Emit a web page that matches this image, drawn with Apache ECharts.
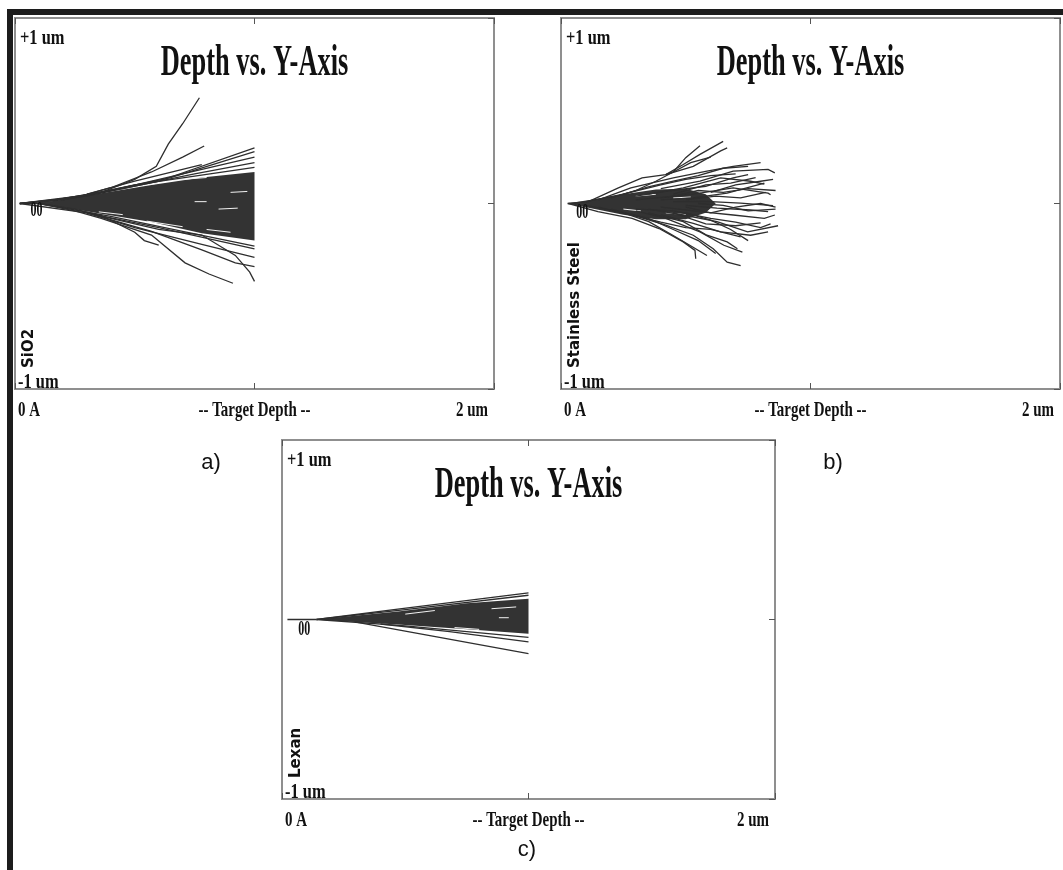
<!DOCTYPE html>
<html>
<head>
<meta charset="utf-8">
<title>Depth vs. Y-Axis</title>
<script src="https://cdn.jsdelivr.net/npm/echarts@6/dist/echarts.min.js"></script>
<style>
  html, body { margin: 0; padding: 0; background: #fff; }
  #main { width: 1063px; height: 870px; }
</style>
</head>
<body>
<div id="main"></div>
<script>
// texts
const xTickLabels = ['0 A', '-- Target Depth --', '2 um']
const yTickLabels = ['-1 um', '+1 um']
const titleText = 'Depth vs. Y-Axis'
const materials = ['SiO2', 'Stainless Steel', 'Lexan']
const captions = ['a)', 'b)', 'c)']

// dense part of each cascade, [depth (um), y (um)]
const coreA = [[0.1, 0.004], [0.2, 0.02], [0.36, 0.055], [0.57, 0.1], [0.78, 0.14], [1.0, 0.17],
  [1.0, -0.2], [0.78, -0.16], [0.57, -0.1], [0.36, -0.055], [0.2, -0.02], [0.1, -0.004]]
const coreB = [[0.03, 0.002], [0.12, 0.02], [0.25, 0.05], [0.38, 0.075], [0.5, 0.08], [0.58, 0.05], [0.62, 0.0],
  [0.58, -0.05], [0.5, -0.085], [0.38, -0.085], [0.25, -0.06], [0.12, -0.025], [0.03, -0.002]]
const coreC = [[0.14, 0], [0.47, 0.045], [0.75, 0.09], [1.0, 0.115],
  [1.0, -0.08], [0.75, -0.055], [0.47, -0.028], [0.14, -0.002]]

// single ion tracks that stand out of the core
const pathsA = [
  [[0.02, 0], [0.12, 0]],
  [[0.02, 0], [0.2, 0.02], [0.36, 0.06], [0.5, 0.13], [0.59, 0.2], [0.64, 0.32], [0.7, 0.43], [0.77, 0.57]],
  [[0.02, 0], [0.25, 0.03], [0.4, 0.085], [0.57, 0.17], [0.7, 0.25], [0.79, 0.31]],
  [[0.3, 0.05], [0.5, 0.12], [0.78, 0.21]],
  [[0.02, 0], [0.3, 0.04], [0.6, 0.12], [1.0, 0.3]],
  [[0.02, 0], [0.3, 0.045], [0.65, 0.14], [1.0, 0.28]],
  [[0.1, 0.005], [0.4, 0.07], [0.7, 0.16], [1.0, 0.25]],
  [[0.1, 0.005], [0.45, 0.08], [0.75, 0.16], [1.0, 0.22]],
  [[0.2, 0.02], [0.5, 0.1], [1.0, 0.195]],
  [[0.02, 0], [0.3, -0.05], [0.6, -0.13], [1.0, -0.245]],
  [[0.1, 0], [0.4, -0.07], [0.7, -0.15], [1.0, -0.23]],
  [[0.1, 0], [0.25, -0.03], [0.36, -0.065], [0.5, -0.155], [0.54, -0.2], [0.6, -0.225]],
  [[0.1, 0], [0.25, -0.04], [0.36, -0.08], [0.57, -0.17], [0.71, -0.32], [0.81, -0.38], [0.91, -0.43]],
  [[0.3, -0.05], [0.6, -0.14], [0.78, -0.17], [0.92, -0.28], [0.98, -0.37], [1.0, -0.42]],
  [[0.3, -0.05], [0.57, -0.15], [0.78, -0.25], [0.92, -0.32], [1.0, -0.34]],
  [[0.3, -0.05], [0.5, -0.13], [0.78, -0.22], [1.0, -0.29]]
]
const pathsB = [
  [[0.026, 0], [0.06, 0]],
  [[0.03, 0], [0.11, 0.01], [0.23, 0.084], [0.325, 0.138], [0.42, 0.156], [0.49, 0.21], [0.557, 0.265], [0.65, 0.335]],
  [[0.42, 0.156], [0.45, 0.17], [0.5, 0.247], [0.557, 0.311]],
  [[0.42, 0.156], [0.53, 0.2], [0.64, 0.284], [0.666, 0.3]],
  [[0.15, 0.02], [0.28, 0.084], [0.45, 0.138], [0.585, 0.175], [0.69, 0.2], [0.8, 0.22]],
  [[0.4, 0.08], [0.557, 0.12], [0.69, 0.175], [0.83, 0.184], [0.857, 0.165]],
  [[0.35, 0.05], [0.49, 0.084], [0.64, 0.138], [0.76, 0.12], [0.815, 0.105]],
  [[0.4, 0.03], [0.557, 0.056], [0.69, 0.084], [0.83, 0.056], [0.84, 0.047]],
  [[0.45, 0.01], [0.58, 0.011], [0.72, 0.002], [0.85, -0.011]],
  [[0.4, 0.02], [0.53, 0.03], [0.666, 0.056], [0.815, 0.11]],
  [[0.3, 0.04], [0.42, 0.065], [0.58, 0.093], [0.69, 0.138], [0.75, 0.156]],
  [[0.03, 0], [0.148, -0.044], [0.285, -0.08], [0.393, -0.135], [0.49, -0.207], [0.537, -0.253], [0.54, -0.298]],
  [[0.15, -0.02], [0.285, -0.062], [0.42, -0.116], [0.53, -0.171], [0.61, -0.244], [0.666, -0.316], [0.72, -0.335]],
  [[0.3, -0.04], [0.42, -0.08], [0.557, -0.153], [0.653, -0.225], [0.727, -0.262]],
  [[0.35, -0.03], [0.49, -0.062], [0.625, -0.098], [0.748, -0.153], [0.87, -0.12]],
  [[0.4, -0.02], [0.557, -0.044], [0.69, -0.062], [0.815, -0.08], [0.857, -0.062]],
  [[0.35, -0.05], [0.49, -0.098], [0.585, -0.171], [0.666, -0.207], [0.707, -0.244]],
  [[0.25, -0.05], [0.352, -0.098], [0.448, -0.171], [0.516, -0.225], [0.585, -0.28]],
  [[0.5, -0.01], [0.625, -0.025], [0.76, -0.035], [0.83, -0.044]],
  [[0.4, -0.06], [0.53, -0.107], [0.64, -0.153], [0.76, -0.171], [0.83, -0.153]],
  [[0.5, 0.02], [0.62, 0.04], [0.72, 0.03], [0.82, 0.06]],
  [[0.5, -0.02], [0.6, -0.05], [0.7, -0.02], [0.8, 0.0], [0.86, -0.02]],
  [[0.45, 0.05], [0.58, 0.1], [0.68, 0.11], [0.78, 0.14]],
  [[0.45, -0.05], [0.58, -0.11], [0.7, -0.12], [0.8, -0.105]],
  [[0.2, 0.03], [0.3, 0.07], [0.38, 0.12], [0.45, 0.17], [0.52, 0.22], [0.6, 0.25]],
  [[0.1, 0.01], [0.25, 0.05], [0.4, 0.1], [0.5, 0.13], [0.6, 0.15], [0.7, 0.16]],
  [[0.1, -0.01], [0.25, -0.05], [0.4, -0.1], [0.5, -0.13], [0.6, -0.14], [0.72, -0.18]],
  [[0.2, -0.03], [0.35, -0.08], [0.45, -0.14], [0.55, -0.2], [0.62, -0.27]],
  [[0.2, 0.03], [0.35, 0.09], [0.45, 0.12], [0.55, 0.15], [0.65, 0.19], [0.75, 0.2]],
  [[0.3, -0.03], [0.45, -0.04], [0.6, -0.08], [0.7, -0.1], [0.8, -0.13], [0.84, -0.11]],
  [[0.3, 0.02], [0.45, 0.04], [0.55, 0.07], [0.65, 0.06], [0.75, 0.08], [0.86, 0.07]],
  [[0.5, -0.05], [0.6, -0.09], [0.68, -0.14], [0.75, -0.2]],
  [[0.55, 0.0], [0.65, -0.01], [0.75, -0.04], [0.86, -0.03]],
  [[0.6, 0.06], [0.7, 0.1], [0.8, 0.12], [0.85, 0.13]]
]
const pathsC = [
  [[0.022, 0], [0.14, 0]],
  [[0.14, 0], [0.47, 0.058], [1.0, 0.148]],
  [[0.14, 0], [0.5, 0.055], [1.0, 0.135]],
  [[0.14, 0], [0.5, -0.035], [1.0, -0.1]],
  [[0.4, -0.025], [0.68, -0.067], [1.0, -0.125]],
  [[0.3, -0.015], [0.6, -0.09], [1.0, -0.19]]
]

// light gaps between tracks inside the dark cores
const gapsA = [
  [[0.45, 0.085], [0.6, 0.11]], [[0.65, 0.125], [0.8, 0.14]], [[0.55, -0.095], [0.7, -0.125]],
  [[0.8, -0.14], [0.9, -0.155]], [[0.75, 0.01], [0.8, 0.01]], [[0.85, -0.03], [0.93, -0.025]],
  [[0.9, 0.06], [0.97, 0.065]], [[0.35, -0.045], [0.45, -0.06]]
]
const gapsB = [
  [[0.3, 0.04], [0.38, 0.05]], [[0.42, -0.05], [0.5, -0.06]], [[0.45, 0.03], [0.52, 0.035]],
  [[0.25, -0.03], [0.32, -0.04]]
]
const gapsC = [
  [[0.5, 0.03], [0.62, 0.05]], [[0.7, -0.045], [0.8, -0.055]], [[0.85, 0.06], [0.95, 0.07]],
  [[0.88, 0.01], [0.92, 0.01]]
]

// "00" marker under the entry point
const originMarks = [[0.09, -0.04], [0.085, -0.05], [0.09, -0.055]]

const serif = '"Liberation Serif", "DejaVu Serif", serif'
const ink = '#2e2e2e'

const panels = [
  { grid: { left: 15, top: 18, width: 479, height: 371 }, core: coreA, paths: pathsA, gaps: gapsA },
  { grid: { left: 561, top: 18, width: 499, height: 371 }, core: coreB, paths: pathsB, gaps: gapsB },
  { grid: { left: 282, top: 440, width: 493, height: 359 }, core: coreC, paths: pathsC, gaps: gapsC }
]

const chart = echarts.init(document.getElementById('main'))

const option = {
  backgroundColor: '#fff',
  animation: false,
  grid: [],
  xAxis: [],
  yAxis: [],
  series: []
}

panels.forEach((p, i) => {
  option.grid.push(Object.assign({ show: true, borderColor: '#8f8f8f', borderWidth: 2, backgroundColor: '#fff' }, p.grid))
  const base = {
    gridIndex: i,
    type: 'value',
    splitLine: { show: false },
    axisLine: { show: false, onZero: false },
    axisLabel: { show: false }
  }
  const tick = { show: true, inside: true, length: 6, lineStyle: { color: '#555', width: 1 } }
  option.xAxis.push(Object.assign({}, base, { position: 'bottom', min: 0, max: 2, interval: 1, axisTick: tick }))
  option.xAxis.push(Object.assign({}, base, { position: 'top', min: 0, max: 2, interval: 1, axisTick: tick }))
  option.yAxis.push(Object.assign({}, base, { position: 'left', min: -1, max: 1, interval: 1, axisTick: { show: false } }))
  option.yAxis.push(Object.assign({}, base, { position: 'right', min: -1, max: 1, interval: 1, axisTick: tick }))

  option.series.push({
    type: 'custom',
    xAxisIndex: 2 * i,
    yAxisIndex: 2 * i,
    silent: true,
    data: [[0, 0]],
    renderItem: (params, api) => ({
      type: 'polygon',
      shape: { points: p.core.map(pt => api.coord(pt)) },
      style: { fill: '#333' }
    })
  })
  option.series.push({
    type: 'lines',
    coordinateSystem: 'cartesian2d',
    xAxisIndex: 2 * i,
    yAxisIndex: 2 * i,
    polyline: true,
    silent: true,
    data: p.gaps.map(c => ({ coords: c })),
    lineStyle: { color: '#f2f2f2', width: 1, opacity: 1 }
  })
  option.series.push({
    type: 'lines',
    coordinateSystem: 'cartesian2d',
    xAxisIndex: 2 * i,
    yAxisIndex: 2 * i,
    polyline: true,
    silent: true,
    data: p.paths.map(c => ({ coords: c })),
    lineStyle: { color: ink, width: 1.3, opacity: 1 }
  })
})

chart.setOption(option)

function txt(x, y, text, size, opts) {
  const o = Object.assign({ family: serif, weight: 'normal', align: 'center', scaleX: 1, rotation: 0 }, opts)
  return {
    type: 'text',
    x: x,
    y: y,
    z: 100,
    silent: true,
    scaleX: o.scaleX,
    rotation: o.rotation,
    style: {
      text: text,
      fontSize: size,
      fontFamily: o.family,
      fontWeight: o.weight,
      fill: '#111',
      align: o.align,
      textAlign: o.align,
      verticalAlign: 'middle',
      textVerticalAlign: 'middle'
    }
  }
}

const graphic = [
  // black frame edges of the figure
  { type: 'rect', z: 90, silent: true, shape: { x: 7, y: 9, width: 1056, height: 6 }, style: { fill: '#1c1c1c' } },
  { type: 'rect', z: 90, silent: true, shape: { x: 7, y: 9, width: 6, height: 861 }, style: { fill: '#1c1c1c' } }
]

panels.forEach((p, i) => {
  const px = v => chart.convertToPixel({ xAxisIndex: 2 * i, yAxisIndex: 2 * i }, v)
  const [xLeft, yBottom] = px([0, -1])
  const [xMid, yTop] = px([1, 1])
  const [xRight] = px([2, 0])

  graphic.push(txt(xMid, yTop + 46, titleText, 44, { weight: 'bold', scaleX: 0.6 }))
  graphic.push(txt(xLeft + 5, yTop + 21, yTickLabels[1], 20, { align: 'left', weight: 'bold', scaleX: 0.82 }))
  graphic.push(txt(xLeft + 3, yBottom - 6, yTickLabels[0], 20, { align: 'left', weight: 'bold', scaleX: 0.82 }))
  graphic.push(txt(xLeft + 3, yBottom + 21, xTickLabels[0], 22, { align: 'left', weight: 'bold', scaleX: 0.68 }))
  graphic.push(txt(xMid, yBottom + 21, xTickLabels[1], 22, { weight: 'bold', scaleX: 0.68 }))
  graphic.push(txt(xRight - 6, yBottom + 21, xTickLabels[2], 22, { align: 'right', weight: 'bold', scaleX: 0.68 }))
  graphic.push(txt(xLeft + 14, yBottom - 21, materials[i], 15, {
    align: 'left', weight: 'bold', family: '"DejaVu Sans", sans-serif', rotation: Math.PI / 2
  }))
  const [ox, oy] = px(originMarks[i])
  graphic.push(txt(ox, oy, '00', 20, { weight: 'bold', scaleX: 0.6 }))
})

const captionPos = [[211, 463], [833, 463], [527, 850]]
captions.forEach((c, i) => {
  graphic.push(txt(captionPos[i][0], captionPos[i][1], c, 22, { family: '"Liberation Sans", Arial, sans-serif' }))
})

chart.setOption({ graphic: graphic })
</script>
</body>
</html>
